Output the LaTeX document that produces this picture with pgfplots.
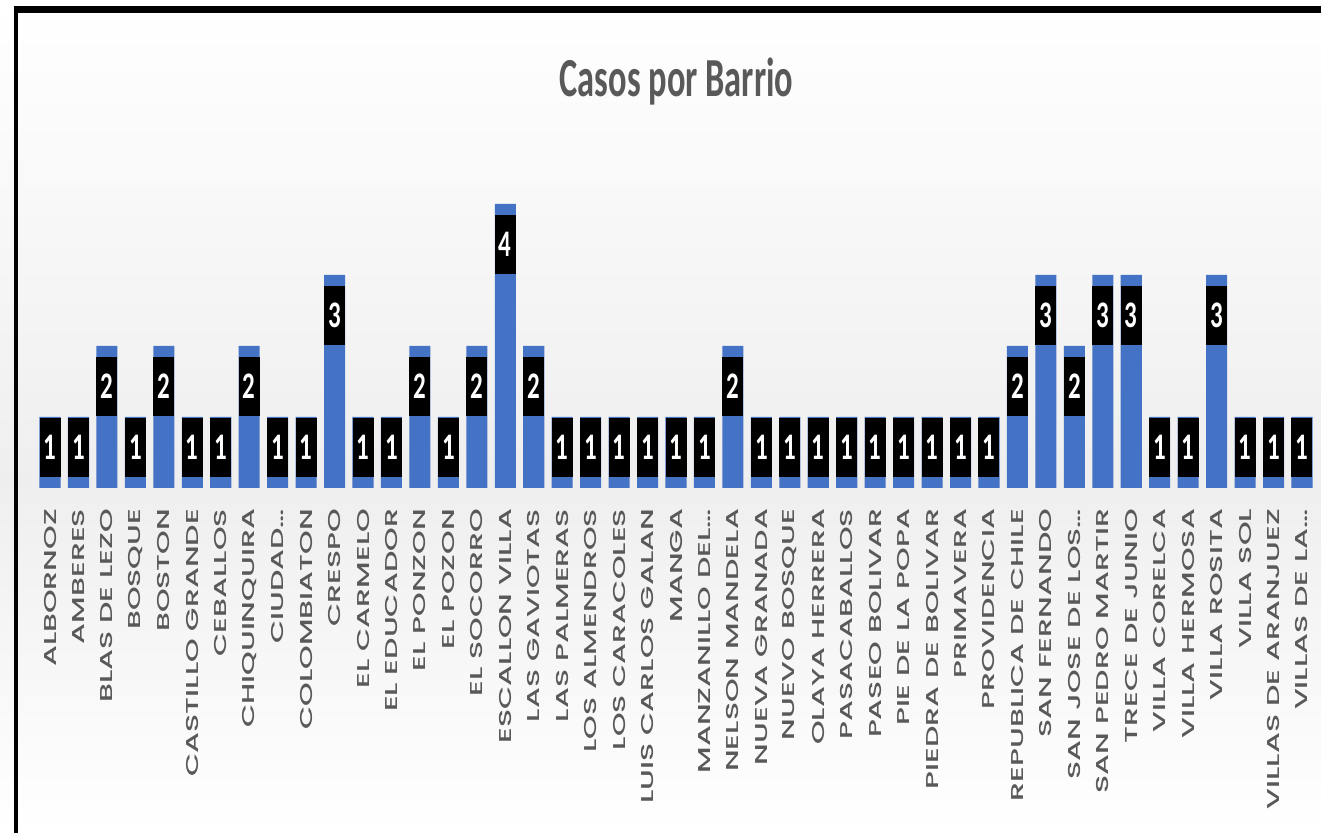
\documentclass[border=0pt]{standalone}
\usepackage{pgfplots}
\pgfplotsset{compat=1.18}
\usepackage{pgfplotstable}
\usepackage{graphicx}
\usepackage{fontspec}
\setmainfont{Carlito}
\newfontfamily\carlito{Carlito}
\newfontfamily\pop{Poppins Medium}
\definecolor{barblue}{HTML}{4472C4}
\definecolor{txtgray}{HTML}{595959}
\newcommand\TL[1]{\scalebox{1.75}[1]{#1}}
\pgfplotstableread{
idx value
0 1
1 1
2 2
3 1
4 2
5 1
6 1
7 2
8 1
9 1
10 3
11 1
12 1
13 2
14 1
15 2
16 4
17 2
18 1
19 1
20 1
21 1
22 1
23 1
24 2
25 1
26 1
27 1
28 1
29 1
30 1
31 1
32 1
33 1
34 2
35 3
36 2
37 3
38 3
39 1
40 1
41 3
42 1
43 1
44 1
}\casos
\begin{document}
\begin{tikzpicture}
% background gradient
\shade[top color=white, bottom color=gray!13] (-17.9pt,4pt) rectangle (642.6pt,244pt);
\shade[top color=gray!13, bottom color=white] (-17.9pt,-172.5pt) rectangle (642.6pt,4pt);
\begin{axis}[
  at={(0,0)}, anchor=south west,
  scale only axis, width=640.2pt, height=177.5pt,
  xmin=-0.5, xmax=44.5, ymin=0, ymax=5,
  axis line style={draw=none},
  tick style={draw=none},
  ytick=\empty,
  xtick=data,
  xticklabels={\TL{ALBORNOZ},\TL{AMBERES},\TL{BLAS DE LEZO},\TL{BOSQUE},\TL{BOSTON},\TL{CASTILLO GRANDE},\TL{CEBALLOS},\TL{CHIQUINQUIRA},\TL{CIUDAD…},\TL{COLOMBIATON},\TL{CRESPO},\TL{EL CARMELO},\TL{EL EDUCADOR},\TL{EL PONZON},\TL{EL POZON},\TL{EL SOCORRO},\TL{ESCALLON VILLA},\TL{LAS GAVIOTAS},\TL{LAS PALMERAS},\TL{LOS ALMENDROS},\TL{LOS CARACOLES},\TL{LUIS CARLOS GALAN},\TL{MANGA},\TL{MANZANILLO DEL…},\TL{NELSON MANDELA},\TL{NUEVA GRANADA},\TL{NUEVO BOSQUE},\TL{OLAYA HERRERA},\TL{PASACABALLOS},\TL{PASEO BOLIVAR},\TL{PIE DE LA POPA},\TL{PIEDRA DE BOLIVAR},\TL{PRIMAVERA},\TL{PROVIDENCIA},\TL{REPUBLICA DE CHILE},\TL{SAN FERNANDO},\TL{SAN JOSE DE LOS…},\TL{SAN PEDRO MARTIR},\TL{TRECE DE JUNIO},\TL{VILLA CORELCA},\TL{VILLA HERMOSA},\TL{VILLA ROSITA},\TL{VILLA SOL},\TL{VILLAS DE ARANJUEZ},\TL{VILLAS DE LA…}},
  xticklabel style={rotate=90, anchor=east, inner sep=0pt, font=\pop\fontsize{8.6}{10}\selectfont, text=txtgray},
  xticklabel shift=6pt,
  /pgf/number format/assume math mode=true,
  ybar, bar width=0.74,
  clip=false,
]
\addplot[fill=barblue, draw=none,
  visualization depends on={rawy \as \rawy},
  nodes near coords={\scalebox{1}[1.5]{\pgfmathprintnumber{\pgfplotspointmeta}}},
  every node near coord/.append style={fill=black, text=white, minimum width=10.5pt, minimum height=29.5pt, inner sep=0pt, anchor=center, font=\carlito\bfseries\fontsize{12.5}{14}\selectfont, yshift={(-20.25+5*(\rawy<1.5))*1pt}},
] table[x=idx, y=value] {\casos};
\end{axis}
% title
\node[anchor=base, text=txtgray, font=\carlito\bfseries\fontsize{17.2}{20}\selectfont] at (320.35pt,195.5pt) {\scalebox{1}[1.6]{Casos por Barrio}};
% frame
\draw[line width=3.5pt, black] (-10.9pt,239.25pt) -- (642.6pt,239.25pt);
\draw[line width=2pt, black] (-10.05pt,241pt) -- (-10.05pt,-172.5pt);
\pgfresetboundingbox
\useasboundingbox (-17.9pt,-172.5pt) rectangle (642.6pt,244pt);
\end{tikzpicture}
\end{document}
